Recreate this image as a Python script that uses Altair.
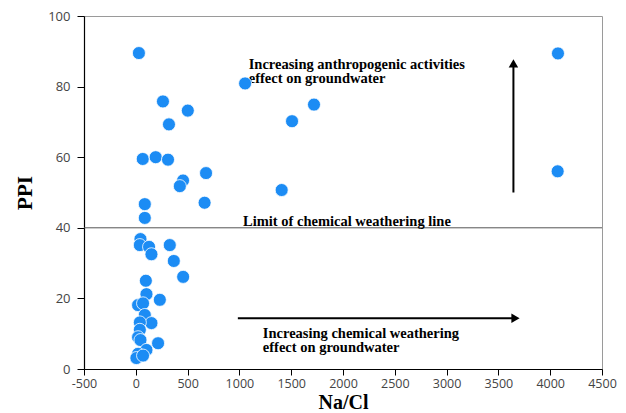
import altair as alt
import pandas as pd

# Na/Cl vs PPI samples
na_cl = [30, 4075, 1055, 262, 1720, 502, 320, 1508, 67, 192, 311, 678, 4072, 456, 425, 1408, 664, 87, 87,
         45, 39, 128, 151, 328, 367, 457, 97, 103, 232, 22, 70, 87, 151, 39, 39, 22, 45, 215, 103, 22, 6, 70]
ppi = [89.5, 89.4, 80.9, 75.8, 74.9, 73.2, 69.3, 70.2, 59.5, 60.0, 59.3, 55.5, 56.0, 53.4, 51.8, 50.7, 47.1, 46.7, 42.8,
       36.8, 35.1, 34.6, 32.5, 35.1, 30.6, 26.1, 25.0, 21.2, 19.6, 18.1, 18.6, 15.3, 13.0, 13.2, 11.1, 9.0, 8.2, 7.3, 5.4, 4.3, 3.1, 3.8]

x_ticks = [-500, 0, 500, 1000, 1500, 2000, 2500, 3000, 3500, 4000, 4500]
y_ticks = [0, 10, 20, 30, 40, 50, 60, 70, 80, 90, 100]

limit_ppi = [40]

# annotation texts and anchor positions (data units)
note_text = ["Increasing anthropogenic activities\neffect on groundwater",
             "Limit of chemical weathering line",
             "Increasing chemical weathering\neffect on groundwater"]
note_x = [1090, 1035, 1226]
note_y = [85.0, 40.6, 8.8]

# arrows (data units)
v_arrow_x = [3645]
v_arrow_y = [50]
v_arrow_y2 = [86.0]
v_head_y = [86.6]
h_arrow_x = [985]
h_arrow_x2 = [3650]
h_arrow_y = [14.4]
h_head_x = [3665]

df = pd.DataFrame({"na_cl": na_cl, "ppi": ppi})

xscale = alt.Scale(domain=[-500, 4500], nice=False, zero=False)
yscale = alt.Scale(domain=[0, 100], nice=False, zero=False)

base_x = alt.X("na_cl:Q", scale=xscale,
               axis=alt.Axis(values=x_ticks, title="Na/Cl", labelFlush=False,
                             labelExpr="'' + datum.value", tickSize=6, labelPadding=2,
                             labelFontSize=12.5, titlePadding=3, titleFontSize=20))
base_y = alt.Y("ppi:Q", scale=yscale,
               axis=alt.Axis(values=y_ticks, title="PPI", labelFlush=False,
                             tickSize=7, labelPadding=7, titlePadding=12, titleFontSize=21))

points = alt.Chart(df).mark_circle(size=170, color="#1C8CF4", opacity=1,
                                   stroke="white", strokeWidth=0.8).encode(x=base_x, y=base_y)

limit = alt.Chart(pd.DataFrame({"ppi": limit_ppi})).mark_rule(color="#555555", strokeWidth=1).encode(
    y=alt.Y("ppi:Q", scale=yscale))

notes_df = pd.DataFrame({"na_cl": note_x, "ppi": note_y, "t": note_text})
notes = alt.Chart(notes_df).mark_text(align="left", baseline="alphabetic", font="Liberation Serif",
                                      fontWeight="bold", fontSize=14.5, lineBreak="\n", lineHeight=14.5,
                                      color="black").encode(
    x=alt.X("na_cl:Q", scale=xscale), y=alt.Y("ppi:Q", scale=yscale), text="t:N")

v_df = pd.DataFrame({"na_cl": v_arrow_x, "ppi": v_arrow_y, "ppi2": v_arrow_y2, "head": v_head_y})
v_rule = alt.Chart(v_df).mark_rule(color="black", strokeWidth=2).encode(
    x=alt.X("na_cl:Q", scale=xscale), y=alt.Y("ppi:Q", scale=yscale), y2="ppi2:Q")
v_head = alt.Chart(v_df).mark_point(shape="triangle-up", size=90, filled=True, color="black", opacity=1).encode(
    x=alt.X("na_cl:Q", scale=xscale), y=alt.Y("head:Q", scale=yscale))

h_df = pd.DataFrame({"na_cl": h_arrow_x, "na_cl2": h_arrow_x2, "ppi": h_arrow_y, "head": h_head_x})
h_rule = alt.Chart(h_df).mark_rule(color="black", strokeWidth=2).encode(
    x=alt.X("na_cl:Q", scale=xscale), x2="na_cl2:Q", y=alt.Y("ppi:Q", scale=yscale))
h_head = alt.Chart(h_df).mark_point(shape="triangle-right", size=90, filled=True, color="black", opacity=1).encode(
    x=alt.X("head:Q", scale=xscale), y=alt.Y("ppi:Q", scale=yscale))

chart = alt.layer(limit, v_rule, v_head, h_rule, h_head, notes, points).properties(
    width=518, height=353,
    autosize=alt.AutoSizeParams(type="none"),
    padding={"left": 76, "top": 8, "right": 16, "bottom": 44},
).configure_view(stroke="#9a9a9a", strokeWidth=1).configure_axis(
    grid=False, domainColor="black", domainWidth=1.2, tickColor="black", tickWidth=1,
    labelFont="Open Sans", labelFontSize=13, labelColor="#444444",
    titleFont="Liberation Serif", titleFontWeight="bold", titleColor="black")

chart.save("out.html", embed_options={"renderer": "svg", "actions": False})
